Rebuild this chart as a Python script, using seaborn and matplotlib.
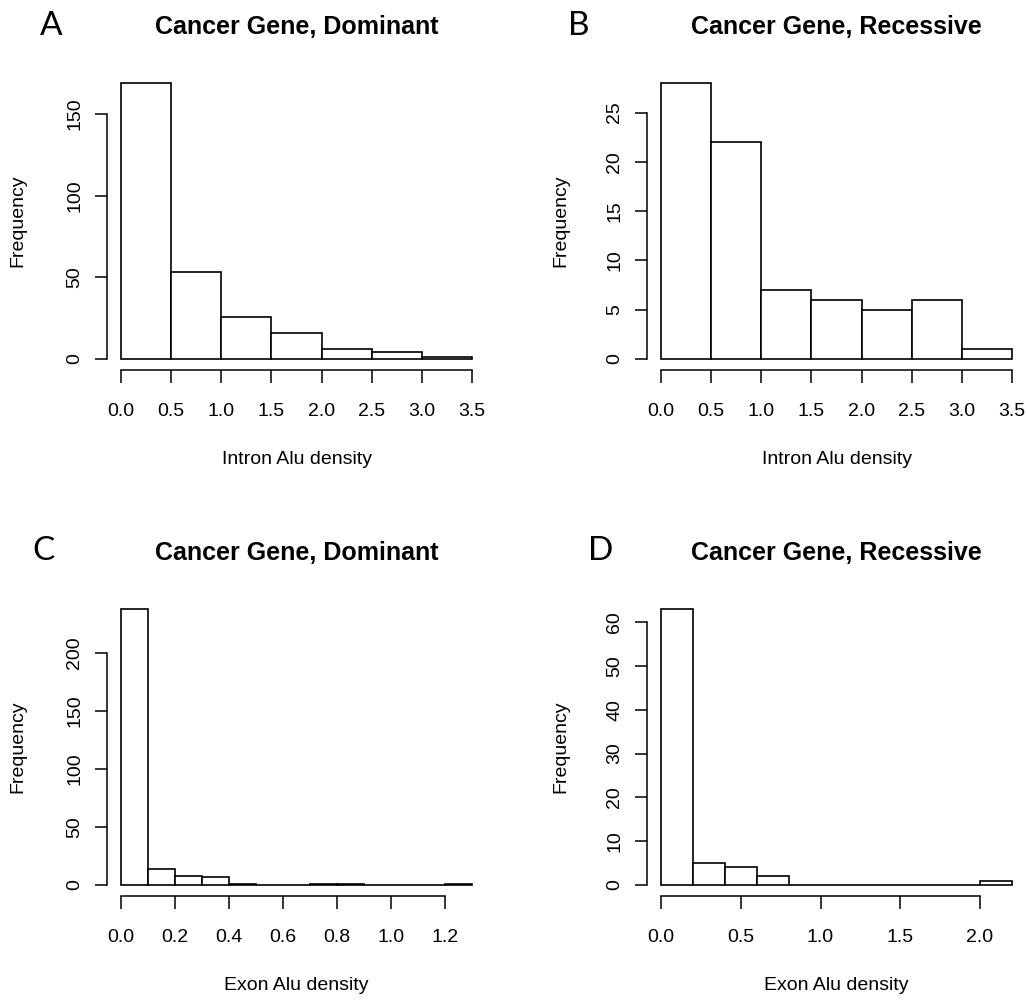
import numpy as np
import pandas as pd
import matplotlib
matplotlib.use("Agg")
import matplotlib.pyplot as plt
import seaborn as sns

# ---------------- data ----------------
edges_a = [0.0, 0.5, 1.0, 1.5, 2.0, 2.5, 3.0, 3.5]
counts_a = [169, 53, 26, 16, 6, 4, 1]
edges_b = [0.0, 0.5, 1.0, 1.5, 2.0, 2.5, 3.0, 3.5]
counts_b = [28, 22, 7, 6, 5, 6, 1]
edges_c = [0.0, 0.1, 0.2, 0.3, 0.4, 0.5, 0.6, 0.7, 0.8, 0.9, 1.0, 1.1, 1.2, 1.3]
counts_c = [238, 14, 8, 7, 1, 0, 0, 1, 1, 0, 0, 0, 1]
edges_d = [0.0, 0.2, 0.4, 0.6, 0.8, 1.0, 1.2, 1.4, 1.6, 1.8, 2.0, 2.2]
counts_d = [63, 5, 4, 2, 0, 0, 0, 0, 0, 0, 1]

xticks_a = [0.0, 0.5, 1.0, 1.5, 2.0, 2.5, 3.0, 3.5]
yticks_a = [0, 50, 100, 150]
xticks_b = [0.0, 0.5, 1.0, 1.5, 2.0, 2.5, 3.0, 3.5]
yticks_b = [0, 5, 10, 15, 20, 25]
xticks_c = [0.0, 0.2, 0.4, 0.6, 0.8, 1.0, 1.2]
yticks_c = [0, 50, 100, 150, 200]
xticks_d = [0.0, 0.5, 1.0, 1.5, 2.0]
yticks_d = [0, 10, 20, 30, 40, 50, 60]

titles = ["Cancer Gene, Dominant", "Cancer Gene, Recessive",
          "Cancer Gene, Dominant", "Cancer Gene, Recessive"]
letters = ["A", "B", "C", "D"]
xlabels = ["Intron Alu density", "Intron Alu density",
           "Exon Alu density", "Exon Alu density"]
ylabel = "Frequency"

# ---------------- style ----------------
sns.set_style("ticks")
plt.rcParams["font.family"] = ["Liberation Sans", "DejaVu Sans"]
plt.rcParams["text.color"] = "black"
plt.rcParams["axes.labelcolor"] = "black"
plt.rcParams["xtick.color"] = "black"
plt.rcParams["ytick.color"] = "black"

W, H = 1027, 1001
fig = plt.figure(figsize=(W / 100, H / 100), dpi=100)

# axes boxes in pixels: (left, top, width, height)
boxes = [(107, 72, 379, 298), (647, 72, 379, 298),
         (107, 598, 379, 298), (647, 598, 379, 298)]
letter_pos = [(51, 26), (579, 26), (44, 551), (601, 551)]
ylab_x = [18, 561, 18, 561]

panels = [
    (edges_a, counts_a, xticks_a, yticks_a),
    (edges_b, counts_b, xticks_b, yticks_b),
    (edges_c, counts_c, xticks_c, yticks_c),
    (edges_d, counts_d, xticks_d, yticks_d),
]

FS = 14

for i, (edges, counts, xt, yt) in enumerate(panels):
    l, t, w, h = boxes[i]
    ax = fig.add_axes([l / W, 1 - (t + h) / H, w / W, h / H])
    centers = [(edges[k] + edges[k + 1]) / 2 for k in range(len(counts))]
    df = pd.DataFrame({"x": centers, "w": counts})
    sns.histplot(data=df, x="x", weights="w", bins=edges, ax=ax,
                 color="white", edgecolor="black", linewidth=1.2, alpha=1)
    xr = edges[-1] - edges[0]
    ymax = max(counts)
    ax.set_xlim(edges[0] - 0.04 * xr, edges[-1] + 0.04 * xr)
    ax.set_ylim(-0.04 * ymax, 1.04 * ymax)
    ax.set_xticks(xt)
    ax.set_yticks(yt)
    ax.set_xticklabels([f"{v:.1f}" for v in xt])
    ax.set_yticklabels([str(v) for v in yt], rotation=90, va="center")
    for s in ["top", "right"]:
        ax.spines[s].set_visible(False)
    ax.spines["bottom"].set_bounds(xt[0], xt[-1])
    ax.spines["left"].set_bounds(yt[0], yt[-1])
    for s in ["bottom", "left"]:
        ax.spines[s].set_linewidth(1.1)
        ax.spines[s].set_color("black")
    ax.tick_params(axis="x", length=9, width=1.1, pad=15, labelsize=FS)
    ax.tick_params(axis="y", length=9, width=1.1, pad=8, labelsize=FS)
    ax.set_xlabel(xlabels[i], fontsize=FS, va="center")
    ax.xaxis.set_label_coords(0.5, -90 / h)
    ax.set_ylabel(ylabel, fontsize=FS, va="center")
    ax.yaxis.set_label_coords((ylab_x[i] - l) / w, 0.5)
    ax.text(0.5, 1 + 45 / h, titles[i], transform=ax.transAxes,
            ha="center", va="center", fontsize=18, fontweight="bold")
    lx, ly = letter_pos[i]
    fig.text(lx / W, 1 - ly / H, letters[i], ha="center", va="center",
             fontsize=24, family=["Lato", "DejaVu Sans"])

fig.savefig("out.png", dpi=100, facecolor="white")
